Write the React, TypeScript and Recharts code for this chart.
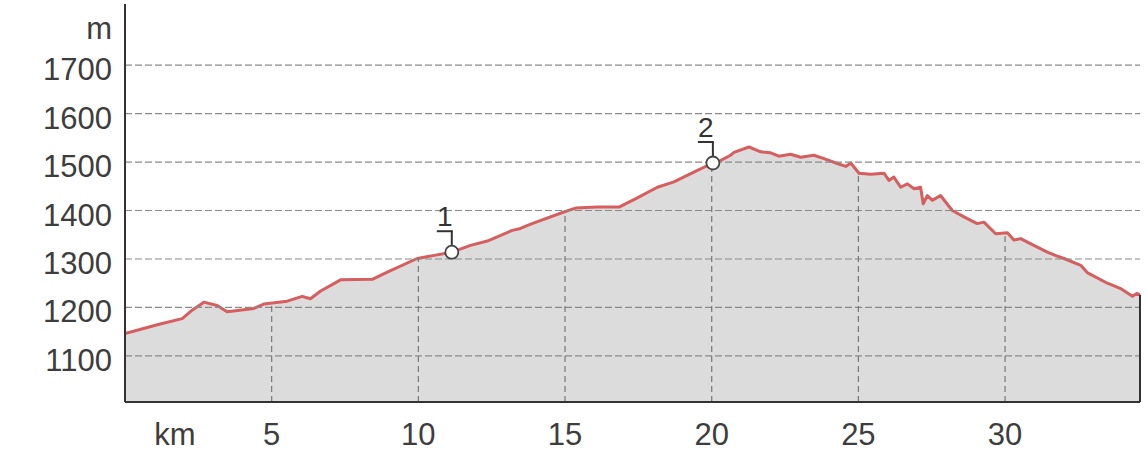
import React from "react";
import {
  ComposedChart,
  Area,
  XAxis,
  YAxis,
  ReferenceLine,
  ReferenceDot,
} from "recharts";

// Distance along the route (km)
const kmValues = [
  0, 0.6, 1.2, 1.95, 2.3, 2.69, 3.14, 3.48, 3.77, 4.39, 4.73, 5.53, 6.04, 6.32,
  6.67, 7.35, 8.43, 8.94, 9.96, 10.59, 11.14, 11.78, 12.35, 13.2, 13.48, 13.83,
  14.96, 15.36, 16.1, 16.84, 17.4, 18.15, 18.71, 19.39, 20.04, 20.3, 20.64,
  20.76, 21.27, 21.67, 22.01, 22.29, 22.69, 23.03, 23.48, 23.83, 24.28, 24.57,
  24.74, 25.02, 25.42, 25.87, 26.04, 26.21, 26.44, 26.67, 26.9, 27.12, 27.21,
  27.35, 27.52, 27.8, 28.2, 28.6, 29.05, 29.28, 29.68, 30.08, 30.3, 30.53,
  30.98, 31.44, 31.78, 32.01, 32.58, 32.8, 33.49, 33.94, 34.34, 34.49, 34.6,
];

// Elevation (m)
const elevValues = [
  1146, 1156, 1166, 1177, 1195, 1211, 1204, 1191, 1193, 1198, 1207, 1213, 1223,
  1218, 1234, 1257, 1258, 1273, 1301, 1308, 1314, 1328, 1337, 1359, 1363, 1372,
  1397, 1405, 1407, 1407, 1424, 1448, 1459, 1479, 1498, 1503, 1514, 1520, 1531,
  1521, 1519, 1512, 1516, 1510, 1514, 1507, 1497, 1491, 1498, 1477, 1475, 1477,
  1462, 1469, 1448, 1455, 1445, 1448, 1414, 1431, 1421, 1431, 1400, 1387, 1373,
  1376, 1352, 1354, 1339, 1342, 1328, 1314, 1306, 1301, 1287, 1272, 1250, 1239,
  1223, 1229, 1226,
];

// Waypoint markers
const markerKm = [11.14, 20.04];
const markerElev = [1314, 1498];
const markerLabels = ["1", "2"];

// Axes
const xTicks = [1.7, 5, 10, 15, 20, 25, 30];
const xUnitTick = 1.7;
const xUnitLabel = "km";
const xDomain: [number, number] = [0, 34.6];
const vGridKm = [5, 10, 15, 20, 25, 30];

const yTicks = [1100, 1200, 1300, 1400, 1500, 1600, 1700, 1784];
const yUnitTick = 1784;
const yUnitLabel = "m";
const yGridValues = [1100, 1200, 1300, 1400, 1500, 1600, 1700];
const yDomain: [number, number] = [1005, 1826];

const data = kmValues.map((km, i) => ({ km, elev: elevValues[i] }));

function elevAt(km: number): number {
  for (let i = 1; i < kmValues.length; i++) {
    if (kmValues[i] >= km) {
      const t = (km - kmValues[i - 1]) / (kmValues[i] - kmValues[i - 1]);
      return elevValues[i - 1] + t * (elevValues[i] - elevValues[i - 1]);
    }
  }
  return elevValues[elevValues.length - 1];
}

const FONT = "'Liberation Sans', Arial, sans-serif";
const FS = 31;
const TEXT = "#3d3d3d";

const YTick = (props: any) => {
  const { x, y, payload } = props;
  const label = payload.value === yUnitTick ? yUnitLabel : String(payload.value);
  return (
    <text
      x={x}
      y={y}
      dy={FS * 0.355 + 4}
      textAnchor="end"
      fontFamily={FONT}
      fontSize={FS}
      fill={TEXT}
    >
      {label}
    </text>
  );
};

const XTick = (props: any) => {
  const { x, y, payload } = props;
  const label = payload.value === xUnitTick ? xUnitLabel : String(payload.value);
  return (
    <text
      x={x}
      y={y}
      dy={FS * 0.72}
      textAnchor="middle"
      fontFamily={FONT}
      fontSize={FS}
      fill={TEXT}
    >
      {label}
    </text>
  );
};

const makeMarker = (label: string) => (props: any) => {
  const { cx, cy } = props;
  const r = 6.5;
  return (
    <g>
      <line x1={cx - 15} y1={cy - 21} x2={cx + 1} y2={cy - 21} stroke="#333" strokeWidth={2} />
      <line x1={cx} y1={cy - 21} x2={cx} y2={cy - r} stroke="#333" strokeWidth={2} />
      <circle cx={cx} cy={cy} r={r} fill="#ffffff" stroke="#444" strokeWidth={1.8} />
      <text
        x={cx - 7}
        y={cy - 26}
        textAnchor="middle"
        fontFamily={FONT}
        fontSize={28}
        fill="#333"
      >
        {label}
      </text>
    </g>
  );
};

export default function App() {
  const lastKm = kmValues[kmValues.length - 1];
  const lastElev = elevValues[elevValues.length - 1];
  return (
    <div style={{ position: "absolute", left: 0, top: 0, width: 1146, height: 470, background: "#fff" }}>
      <ComposedChart
        width={1146}
        height={470}
        data={data}
        margin={{ top: 4, right: 6, left: 0, bottom: 0 }}
      >
        <XAxis
          dataKey="km"
          type="number"
          domain={xDomain}
          ticks={xTicks}
          interval={0}
          height={68}
          tickLine={false}
          tickSize={0}
          tickMargin={21}
          axisLine={{ stroke: "#333", strokeWidth: 2 }}
          tick={<XTick />}
          allowDataOverflow
        />
        <YAxis
          type="number"
          domain={yDomain}
          ticks={yTicks}
          interval={0}
          width={125}
          tickLine={false}
          tickSize={0}
          tickMargin={13}
          axisLine={{ stroke: "#333", strokeWidth: 2 }}
          tick={<YTick />}
          allowDataOverflow
        />
        <Area
          type="linear"
          dataKey="elev"
          fill="#dcdcdc"
          fillOpacity={1}
          stroke="none"
          isAnimationActive={false}
          dot={false}
          activeDot={false}
          baseValue={yDomain[0]}
        />
        {yGridValues.map((v) => (
          <ReferenceLine
            key={"h" + v}
            y={v}
            stroke="#8a8a8a"
            strokeWidth={1.2}
            strokeDasharray="7 3"
          />
        ))}
        {vGridKm.map((k) => (
          <ReferenceLine
            key={"v" + k}
            segment={[
              { x: k, y: yDomain[0] },
              { x: k, y: elevAt(k) },
            ]}
            stroke="#777"
            strokeWidth={1.2}
            strokeDasharray="6 4"
          />
        ))}
        <ReferenceLine
          segment={[
            { x: lastKm, y: yDomain[0] },
            { x: lastKm, y: lastElev },
          ]}
          stroke="#333"
          strokeWidth={2}
        />
        <Area
          type="linear"
          dataKey="elev"
          fill="none"
          stroke="#d65e5e"
          strokeWidth={3}
          strokeLinejoin="round"
          isAnimationActive={false}
          dot={false}
          activeDot={false}
          baseValue={yDomain[0]}
        />
        {markerKm.map((k, i) => (
          <ReferenceDot
            key={"m" + i}
            x={k}
            y={markerElev[i]}
            r={6.5}
            shape={makeMarker(markerLabels[i])}
          />
        ))}
      </ComposedChart>
    </div>
  );
}
